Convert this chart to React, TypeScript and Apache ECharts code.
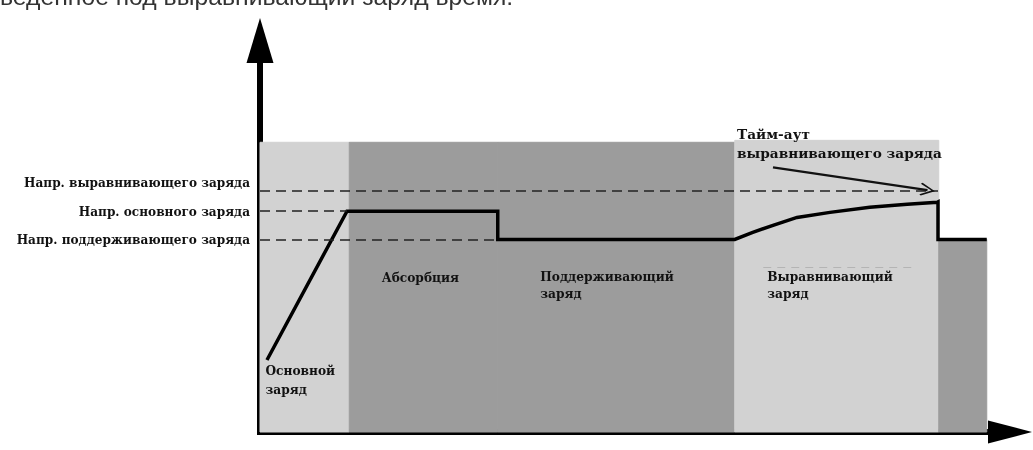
import React, { useEffect, useRef } from "react";
import * as echarts from "echarts";

// Voltage levels (arbitrary units, 0 at the time axis)
const levelNames = [
  "Напр. выравнивающего заряда",
  "Напр. основного заряда",
  "Напр. поддерживающего заряда",
];
const levelValues = [61.7, 56.4, 49.2];
const levelEnds = [90.4, 11.6, 31.7];

// Charging phases (time units)
const phaseNames = ["Основной\nзаряд", "Абсорбция", "Поддерживающий\nзаряд", "Выравнивающий\nзаряд", ""];
const phaseKinds = ["bulk", "absorption", "float", "equalize", "float2"];
const phaseStarts = [0, 11.9, 31.7, 63.3, 90.5];
const phaseEnds = [11.9, 31.7, 63.3, 90.5, 96.9];
const phaseTops = [74, 74, 74, 74.5, 49.2];

// Charge voltage curve
const curveX = [0.93, 11.6, 31.7, 31.7, 63.3, 65.7, 68.4, 71.6, 76.0, 81.3, 86.3, 90.3, 90.4, 90.4, 96.9];
const curveY = [18.4, 56.4, 56.4, 49.2, 49.2, 51.0, 52.8, 54.8, 56.1, 57.4, 58.2, 58.7, 58.8, 49.2, 49.2];

// Equalization timeout note
const noteText = "Тайм-аут\nвыравнивающего заряда";
const noteAnchor = [63.6, 78.6];
const noteArrowFrom = [68.4, 67.6];
const noteArrowTo = [89.0, 61.8];
const faintLine = [67.1, 86.9, 42.1];

const captionText = "ведённое под выравнивающий заряд время.";

const SERIF = '"DejaVu Serif", "Liberation Serif", serif';
const LIGHT = "#d2d2d2";
const DARK = "#9c9c9c";
const INK = "#111";

const phaseColor: Record<string, string> = {
  bulk: LIGHT,
  absorption: DARK,
  float: DARK,
  equalize: LIGHT,
  float2: DARK,
};
const phaseLabelPos: Record<string, number[]> = {
  bulk: [6, 220],
  absorption: [33, 128],
  float: [43, 127],
  equalize: [33, 129],
  float2: [0, 0],
};

export default function App() {
  const ref = useRef<HTMLDivElement>(null);
  useEffect(() => {
    const chart = echarts.init(ref.current!, undefined, { renderer: "svg" });
    const phaseAreas = phaseKinds.map((k, i) => [
      {
        name: phaseNames[i],
        xAxis: phaseStarts[i],
        yAxis: 0,
        itemStyle: { color: phaseColor[k], opacity: 1, borderColor: phaseColor[k], borderWidth: 1 },
        label: {
          show: phaseNames[i] !== "",
          position: phaseLabelPos[k],
          align: "left",
          verticalAlign: "top",
          fontFamily: SERIF,
          fontWeight: "bold",
          fontSize: 12.2,
          lineHeight: k === "bulk" ? 19 : 17,
          color: INK,
        },
      },
      { xAxis: phaseEnds[i], yAxis: phaseTops[i] },
    ]);
    const levelLines = levelNames.map((n, i) => [
      {
        name: n,
        coord: [0, levelValues[i]],
        label: {
          show: true,
          position: "start",
          distance: 10,
          formatter: "{b}",
          offset: i === 0 ? [0, -7] : [0, 1],
          fontFamily: SERIF,
          fontWeight: "bold",
          fontSize: 12.1,
          color: INK,
        },
      },
      { coord: [levelEnds[i], levelValues[i]] },
    ]);
    const option: any = {
      animation: false,
      grid: { left: 260, right: 23, top: 40.5, bottom: 18, containLabel: false },
      xAxis: {
        type: "value",
        min: 0,
        max: 100,
        splitLine: { show: false },
        axisTick: { show: false },
        axisLabel: { show: false },
        axisLine: {
          show: true,
          symbol: ["none", "triangle"],
          symbolSize: [23, 44],
          lineStyle: { color: "#000", width: 6, cap: "square" },
        },
      },
      yAxis: {
        type: "value",
        min: 0,
        max: 100,
        splitLine: { show: false },
        axisTick: { show: false },
        axisLabel: { show: false },
        axisLine: {
          show: true,
          symbol: ["none", "triangle"],
          symbolSize: [27, 45],
          lineStyle: { color: "#000", width: 6, cap: "square" },
        },
      },
      series: [
        {
          type: "line",
          name: "phases",
          data: [],
          z: 1,
          silent: true,
          markArea: { silent: true, data: phaseAreas },
        },
        {
          type: "line",
          name: "levels",
          data: [],
          z: 2,
          clip: false,
          silent: true,
          markLine: {
            silent: true,
            symbol: ["none", "none"],
            lineStyle: { color: "#222", width: 1.6, type: [10, 6] },
            data: [
              ...levelLines,
              [
                {
                  coord: [faintLine[0], faintLine[2]],
                  lineStyle: { color: "#b4b4b4", width: 1, type: [8, 6] },
                  label: { show: false },
                },
                { coord: [faintLine[1], faintLine[2]] },
              ],
            ],
          },
        },
        {
          type: "line",
          name: "charge",
          data: curveX.map((x, i) => [x, curveY[i]]),
          z: 3,
          symbol: "none",
          lineStyle: { color: "#000", width: 3.5, join: "miter" },
          markLine: {
            silent: true,
            symbol: ["none", "path://M0,0 L10,12 L8.3,13.4 L0,3.2 L-8.3,13.4 L-10,12 Z"],
            symbolSize: [13, 15],
            label: { show: false },
            lineStyle: { color: "#111", width: 2.2, type: "solid" },
            data: [[{ coord: noteArrowFrom }, { coord: noteArrowTo }]],
          },
        },
      ],
    };
    chart.setOption(option);
    const p = chart.convertToPixel({ gridIndex: 0 }, noteAnchor) as number[];
    chart.setOption({
      graphic: [
        {
          type: "text",
          x: p[0],
          y: p[1],
          z: 10,
          style: {
            text: noteText,
            font: `bold 13.7px ${SERIF}`,
            lineHeight: 19,
            fill: INK,
            align: "left",
            verticalAlign: "top",
          },
        },
        {
          type: "text",
          x: 0,
          y: -4,
          z: 10,
          style: {
            text: captionText,
            font: '24.7px "Liberation Sans", Arial, sans-serif',
            fill: "#333",
            align: "left",
            verticalAlign: "middle",
          },
        },
      ],
    });
    return () => chart.dispose();
  }, []);
  return <div ref={ref} style={{ position: "fixed", left: 0, top: 0, width: 1033, height: 450 }} />;
}
